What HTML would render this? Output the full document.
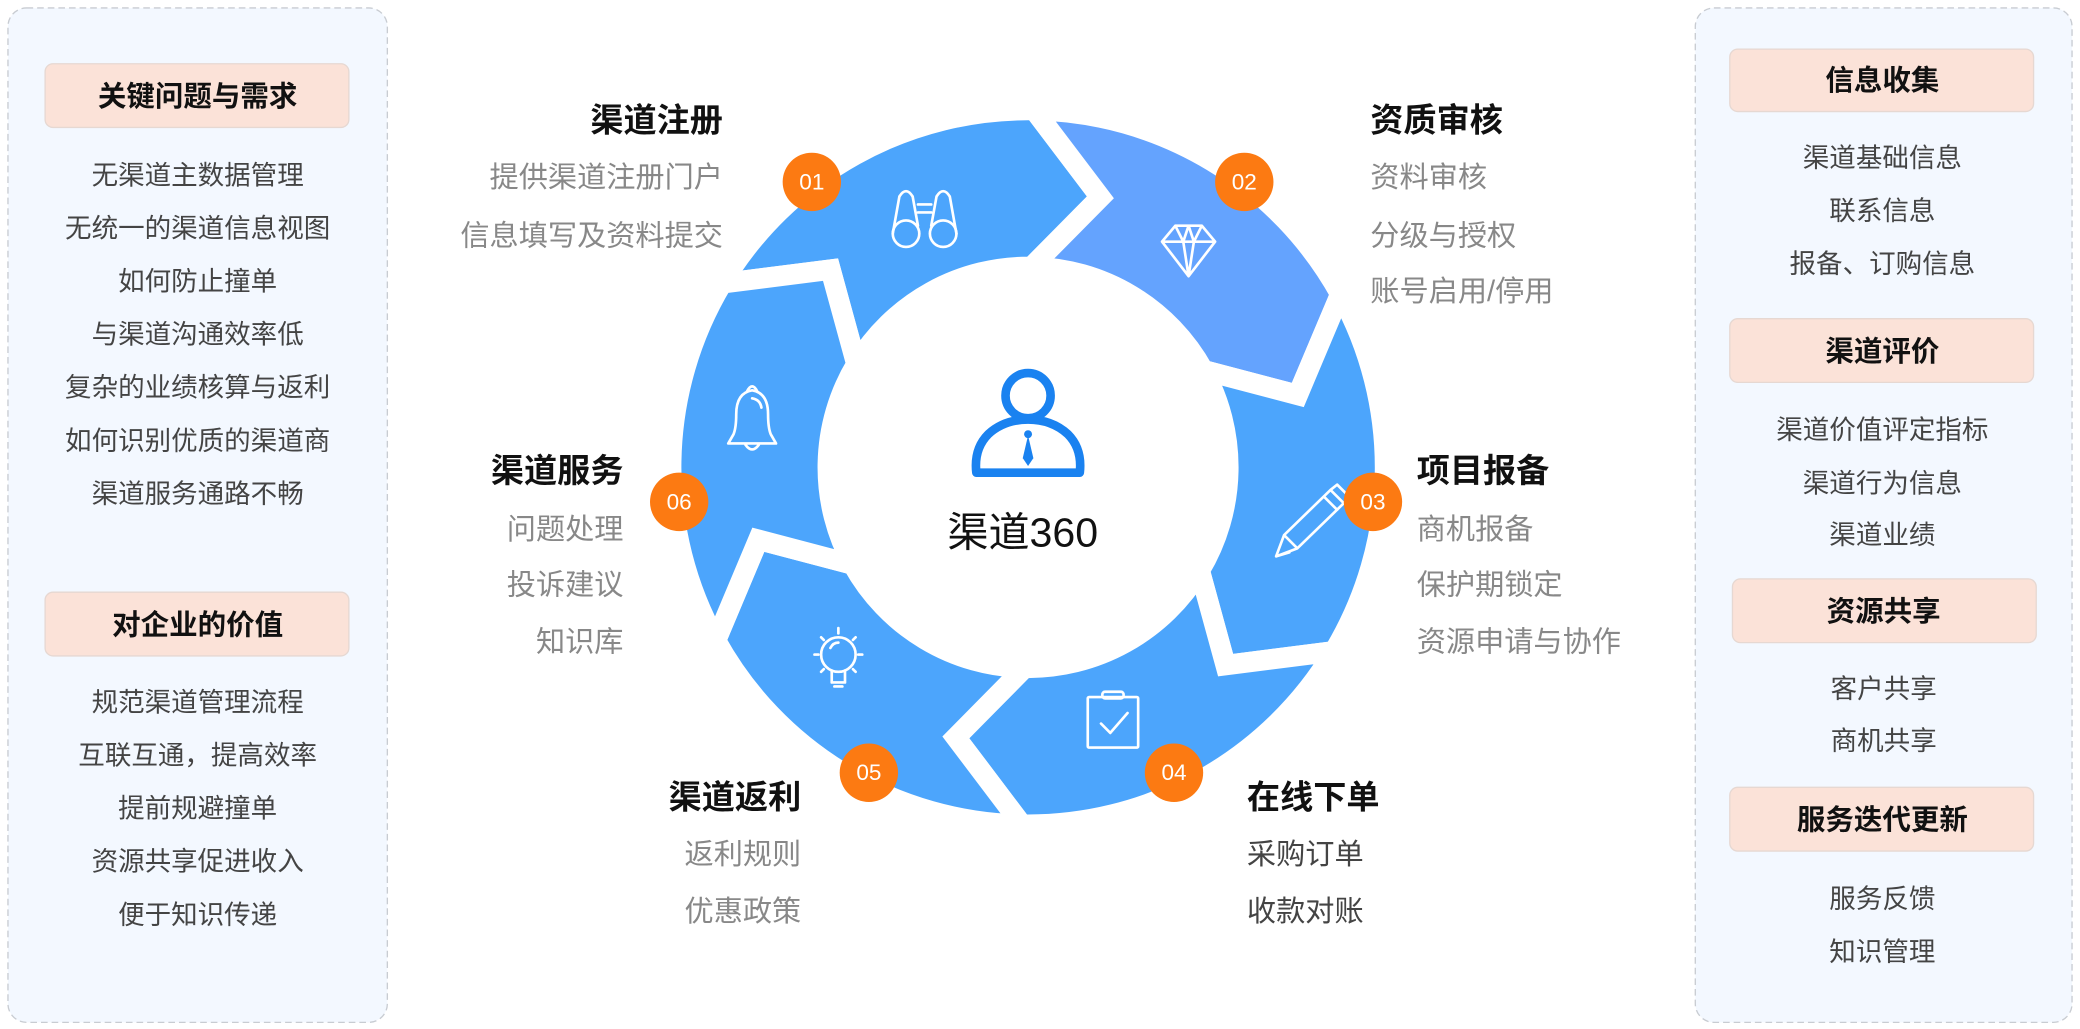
<!DOCTYPE html>
<html><head><meta charset="utf-8"><style>
html,body{margin:0;padding:0;background:#fff;}
svg{display:block;}
text{font-family:"Liberation Sans","Noto Sans CJK SC",sans-serif;}
.h{font-size:21.5px;font-weight:bold;fill:#111;text-anchor:middle;dominant-baseline:central;}
.i{font-size:20px;fill:#444;text-anchor:middle;dominant-baseline:central;}
.t{font-size:25px;font-weight:bold;fill:#111;dominant-baseline:central;}
.s{font-size:22px;fill:#888;dominant-baseline:central;}
.n{font-size:17px;fill:#fff;text-anchor:middle;dominant-baseline:central;}
.ic{fill:none;stroke:#fff;stroke-width:2;stroke-linecap:round;stroke-linejoin:round;}
</style></head><body>
<svg width="2080" height="1029" viewBox="0 0 1568 775" preserveAspectRatio="none" xmlns="http://www.w3.org/2000/svg">
<!-- left panel -->
<rect x="6" y="6" width="286" height="764" rx="14" fill="#f3f8ff" stroke="#c8ccd2" stroke-dasharray="5 3"/>
<rect x="34" y="48" width="229" height="48" rx="6" fill="#fbe2d8" stroke="#e6d8d2"/>
<text class="h" x="149" y="73">关键问题与需求</text>
<text class="i" x="149" y="132">无渠道主数据管理</text>
<text class="i" x="149" y="172">无统一的渠道信息视图</text>
<text class="i" x="149" y="212">如何防止撞单</text>
<text class="i" x="149" y="252">与渠道沟通效率低</text>
<text class="i" x="149" y="292">复杂的业绩核算与返利</text>
<text class="i" x="149" y="332">如何识别优质的渠道商</text>
<text class="i" x="149" y="372">渠道服务通路不畅</text>
<rect x="34" y="446" width="229" height="48" rx="6" fill="#fbe2d8" stroke="#e6d8d2"/>
<text class="h" x="149" y="471">对企业的价值</text>
<text class="i" x="149" y="529">规范渠道管理流程</text>
<text class="i" x="149" y="569">互联互通，提高效率</text>
<text class="i" x="149" y="609">提前规避撞单</text>
<text class="i" x="149" y="649">资源共享促进收入</text>
<text class="i" x="149" y="689">便于知识传递</text>
<!-- right panel -->
<rect x="1278" y="6" width="284" height="764" rx="14" fill="#f3f8ff" stroke="#c8ccd2" stroke-dasharray="5 3"/>
<rect x="1304" y="37" width="229" height="47" rx="6" fill="#fbe2d8" stroke="#e6d8d2"/>
<text class="h" x="1419" y="61">信息收集</text>
<text class="i" x="1419" y="119">渠道基础信息</text>
<text class="i" x="1419" y="159">联系信息</text>
<text class="i" x="1419" y="199">报备、订购信息</text>
<rect x="1304" y="240" width="229" height="48" rx="6" fill="#fbe2d8" stroke="#e6d8d2"/>
<text class="h" x="1419" y="265">渠道评价</text>
<text class="i" x="1419" y="324">渠道价值评定指标</text>
<text class="i" x="1419" y="364">渠道行为信息</text>
<text class="i" x="1419" y="403">渠道业绩</text>
<rect x="1306" y="436" width="229" height="48" rx="6" fill="#fbe2d8" stroke="#e6d8d2"/>
<text class="h" x="1420" y="461">资源共享</text>
<text class="i" x="1420" y="519">客户共享</text>
<text class="i" x="1420" y="558">商机共享</text>
<rect x="1304" y="593" width="229" height="48" rx="6" fill="#fbe2d8" stroke="#e6d8d2"/>
<text class="h" x="1419" y="618">服务迭代更新</text>
<text class="i" x="1419" y="677">服务反馈</text>
<text class="i" x="1419" y="717">知识管理</text>

<!-- ring -->
<g fill="#4ca5fc" stroke="#fff" stroke-width="15" stroke-linejoin="miter" transform="translate(775 352) scale(1.027) translate(-775 -352)">
<path d="M550.4,217.1 A262,262 0 0 1 779.6,90 L828.1,154 L777.6,205 A147,147 0 0 0 649,276.3 L630,207 Z"/>
<path fill="#64a3fe" d="M779.6,90 A262,262 0 0 1 1004.2,225 L973,298.9 L903.6,280.7 A147,147 0 0 0 777.6,205 L828.1,154 Z"/>
<path d="M1004.2,225 A262,262 0 0 1 999.6,486.9 L920,497 L901,427.7 A147,147 0 0 0 903.6,280.7 L973,298.9 Z"/>
<path d="M999.6,486.9 A262,262 0 0 1 770.4,614 L722,550 L772.4,499 A147,147 0 0 0 901,427.7 L920,497 Z"/>
<path d="M770.4,614 A262,262 0 0 1 545.9,479 L577,405.1 L646.4,423.3 A147,147 0 0 0 772.4,499 L722,550 Z"/>
<path d="M545.9,479 A262,262 0 0 1 550.4,217.1 L630,207 L649,276.3 A147,147 0 0 0 646.4,423.3 L577,405.1 Z"/>
</g>
<circle cx="775" cy="352" r="147" fill="#fff"/>

<!-- icons -->
<g class="ic">
<circle cx="683" cy="176" r="10"/><circle cx="711" cy="176" r="10"/>
<path d="M673,176 L678,148 Q683,140 688,148 L692,170 M721,176 L716,148 Q711,140 706,148 L702,170 M692,160 L702,160 M692,154 L702,154"/>
<path d="M876,182 L886,170 L906,170 L916,182 L896,208 Z M876,182 L916,182 M886,170 L892,182 L896,208 L900,182 L906,170 M892,182 L896,170 L900,182"/>
<path d="M962,419 L968,403 L1003,369 L1013,379 L978,413 Z M968,403 L978,413 M962,419 L972,416 M998,374 L1008,384 M1003,369 L1008,365 L1017,374 L1013,379"/>
<rect x="820" y="525" width="38" height="38" rx="1"/>
<rect x="831" y="521" width="16" height="5" rx="2"/>
<path d="M830,545 L837,552 L850,537"/>
<circle cx="632" cy="493" r="13"/>
<path d="M627,505 L627,514 L637,514 L637,505 M629,517 L635,517 M632,473 L632,477 M614,493 L617,493 M647,493 L650,493 M619,480 L621,482 M645,480 L643,482 M619,506 L621,504 M645,506 L643,504 M626,488 Q628,484 632,484"/>
<path d="M549,334 L585,334 L581,327 Q579,322 579,312 Q579,296 567,294 Q555,296 555,312 Q555,322 553,327 Z M563,295 Q567,287 571,295 M562,335 Q567,342 572,335 M567,300 Q573,301 574,307"/>
</g>

<!-- person -->
<g fill="none" stroke="#1a82f0" stroke-width="6.5">
<circle cx="775" cy="298" r="17"/>
<path d="M736,356 Q734,338 745,327 Q757,316 775,316 Q793,316 805,327 Q816,338 814,356 Z" stroke-linejoin="round"/>
</g>
<circle cx="775" cy="298" r="13.5" fill="#fff"/>
<path d="M775,328 L771,345 L775,351 L779,345 Z" fill="#1a82f0"/>
<circle cx="775" cy="327" r="3" fill="#1a82f0"/>
<text x="771" y="401" font-size="31" fill="#111" text-anchor="middle" dominant-baseline="central">渠道360</text>

<!-- badges -->
<g fill="#fc7a12">
<circle cx="612" cy="137" r="22"/><circle cx="938" cy="137" r="22"/>
<circle cx="1035" cy="378" r="22"/><circle cx="885" cy="582" r="22"/>
<circle cx="655" cy="582" r="22"/><circle cx="512" cy="378" r="22"/>
</g>
<text class="n" x="612" y="137">01</text><text class="n" x="938" y="137">02</text>
<text class="n" x="1035" y="378">03</text><text class="n" x="885" y="582">04</text>
<text class="n" x="655" y="582">05</text><text class="n" x="512" y="378">06</text>

<!-- labels -->
<g text-anchor="end">
<text class="t" x="545" y="91">渠道注册</text>
<text class="s" x="545" y="134">提供渠道注册门户</text>
<text class="s" x="545" y="178">信息填写及资料提交</text>
<text class="t" x="470" y="355">渠道服务</text>
<text class="s" x="470" y="399">问题处理</text>
<text class="s" x="470" y="441">投诉建议</text>
<text class="s" x="470" y="484">知识库</text>
<text class="t" x="604" y="601">渠道返利</text>
<text class="s" x="604" y="644">返利规则</text>
<text class="s" x="604" y="687">优惠政策</text>
</g>
<text class="t" x="1033" y="91">资质审核</text>
<text class="s" x="1033" y="134">资料审核</text>
<text class="s" x="1033" y="178">分级与授权</text>
<text class="s" x="1033" y="220">账号启用/停用</text>
<text class="t" x="1068" y="355">项目报备</text>
<text class="s" x="1068" y="399">商机报备</text>
<text class="s" x="1068" y="441">保护期锁定</text>
<text class="s" x="1068" y="484">资源申请与协作</text>
<text class="t" x="940" y="601">在线下单</text>
<text class="s" x="940" y="644" style="fill:#444">采购订单</text>
<text class="s" x="940" y="687" style="fill:#444">收款对账</text>
</svg>
</body></html>
